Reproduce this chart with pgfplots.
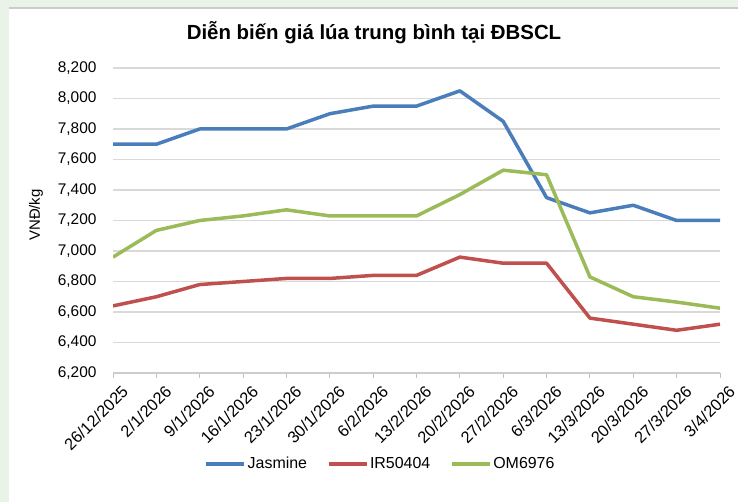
\documentclass[border=0pt]{standalone}
\usepackage{fontspec}
\setmainfont{Liberation Sans}
\usepackage{pgfplots}
\pgfplotsset{compat=1.18}
\definecolor{frameg}{HTML}{EAF3E8}
\definecolor{jas}{HTML}{4A7EBB}
\definecolor{irc}{HTML}{C0504D}
\definecolor{omc}{HTML}{9BBB59}
\begin{document}
\begin{tikzpicture}
\useasboundingbox (0,0) rectangle (738bp,502bp);
\fill[frameg] (0,0) rectangle (738bp,502bp);
\fill[white] (9bp,0) rectangle (738bp,494bp);
\draw[black!20, line width=1.2bp] (9bp,494bp) -- (738bp,494bp);
\node[font=\fontsize{20.5}{24}\selectfont\bfseries] at (374bp,469bp) {Diễn biến giá lúa trung bình tại ĐBSCL};
\node[rotate=90, font=\fontsize{15}{18}\selectfont] at (36bp,287bp) {VNĐ/kg};
\begin{axis}[
  at={(113bp,129bp)}, anchor=south west,
  scale only axis, width=607bp, height=305bp,
  xmin=0, xmax=14, ymin=6200, ymax=8200,
  ytick distance=200,
  xtick={0,...,14},
  xticklabels={26/12/2025,2/1/2026,9/1/2026,16/1/2026,23/1/2026,30/1/2026,6/2/2026,13/2/2026,20/2/2026,27/2/2026,6/3/2026,13/3/2026,20/3/2026,27/3/2026,3/4/2026},
  x tick label style={rotate=45, anchor=north east, font=\fontsize{16.5}{18}\selectfont, inner sep=1pt, yshift=-9bp, xshift=2bp},
  y tick label style={font=\fontsize{15.5}{18}\selectfont, xshift=-8bp},
  /pgf/number format/.cd, 1000 sep={,}, assume math mode=true, /pgfplots/.cd,
  ymajorgrids, grid style={black!15, line width=1.2bp},
  axis x line*=bottom, axis y line*=left,
  x axis line style={black!20, line width=1.2bp, -},
  y axis line style={draw=none},
  xtick style={black!25, line width=1bp},
  ytick style={draw=none},
  major tick length=5bp,
  tick align=outside,
  legend columns=3,
  legend style={draw=none, fill=none, at={(0.44,-0.298)}, anchor=center, font=\fontsize{16}{18}\selectfont,
    nodes={inner xsep=1.5bp},
    /tikz/every even column/.append style={column sep=18bp}},
  legend image code/.code={\draw[#1, line width=4bp] (0bp,0bp) -- (38bp,0bp);},
  every axis plot/.append style={line width=3.5bp, line join=round},
]
\addplot[jas] coordinates {(0,7700)(1,7700)(2,7800)(3,7800)(4,7800)(5,7900)(6,7950)(7,7950)(8,8050)(9,7850)(10,7350)(11,7250)(12,7300)(13,7200)(14,7200)};
\addlegendentry{Jasmine}
\addplot[irc] coordinates {(0,6640)(1,6700)(2,6780)(3,6800)(4,6820)(5,6820)(6,6840)(7,6840)(8,6960)(9,6920)(10,6920)(11,6560)(12,6520)(13,6480)(14,6520)};
\addlegendentry{IR50404}
\addplot[omc] coordinates {(0,6960)(1,7135)(2,7200)(3,7230)(4,7270)(5,7230)(6,7230)(7,7230)(8,7370)(9,7530)(10,7500)(11,6830)(12,6700)(13,6665)(14,6625)};
\addlegendentry{OM6976}
\end{axis}
\end{tikzpicture}
\end{document}
